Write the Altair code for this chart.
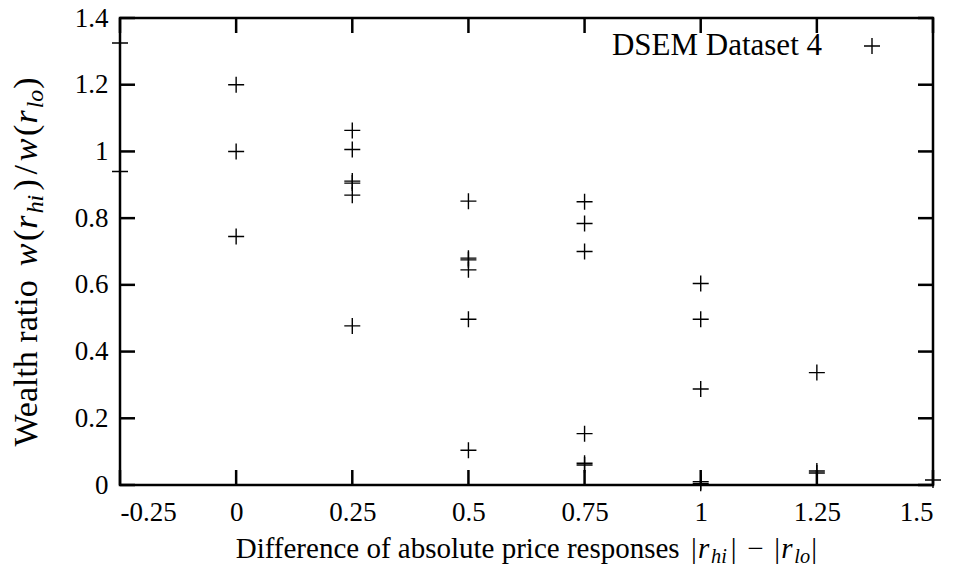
import altair as alt
import pandas as pd

# ---- data ----
x_groups = [-0.25, 0.0, 0.25, 0.5, 0.75, 1.0, 1.25, 1.5]
y_groups = [
    [1.325, 0.94],
    [1.2, 1.0, 0.745],
    [1.063, 1.006, 0.911, 0.905, 0.869, 0.477],
    [0.851, 0.68, 0.675, 0.645, 0.497, 0.104],
    [0.849, 0.784, 0.700, 0.154, 0.065, 0.06],
    [0.604, 0.497, 0.288, 0.01, 0.005],
    [0.337, 0.042, 0.036],
    [0.015],
]
x_ticks = [-0.25, 0, 0.25, 0.5, 0.75, 1, 1.25, 1.5]
y_ticks = [0, 0.2, 0.4, 0.6, 0.8, 1.0, 1.2, 1.4]
legend_label = ["DSEM Dataset 4"]

# axis titles as (text, kind, advance width in em)
# kind: "n" upright, "i" italic, "s" italic subscript, "c" upright centred in slot
x_title_parts = [
    ("Difference of absolute price responses", "n", 15.328),
    (" ", "n", 0.333),
    ("|", "c", 0.278), ("r", "i", 0.451), ("hi", "s", 0.645), ("|", "c", 0.278),
    (" ", "n", 0.222), ("\u2212", "c", 0.778), (" ", "n", 0.222),
    ("|", "c", 0.278), ("r", "i", 0.451), ("lo", "s", 0.548), ("|", "c", 0.278),
]
y_title_parts = [
    ("Wealth ratio", "n", 4.971),
    (" ", "n", 0.333),
    ("w", "i", 0.716), ("(", "c", 0.389), ("r", "i", 0.451), ("hi", "s", 0.645),
    (")", "c", 0.389), ("/", "c", 0.5),
    ("w", "i", 0.716), ("(", "c", 0.389), ("r", "i", 0.451), ("lo", "s", 0.548),
    (")", "c", 0.389),
]

rows = []
for xv, ys in zip(x_groups, y_groups):
    for yv in ys:
        rows.append({"x": xv, "y": yv})
df = pd.DataFrame(rows)

W, H = 813, 467
TOP = 10
FONT = "Liberation Serif, serif"
PLUS = "M-1,0L1,0M0,-1L0,1"
TICK = 15

xs = alt.Scale(domain=[-0.25, 1.5], nice=False, zero=False)
ys_ = alt.Scale(domain=[0, 1.4], nice=False, zero=False)

x_axis = alt.Axis(values=x_ticks, labelExpr="toString(datum.value)", title=None,
                  labelPadding=14)
y_axis = alt.Axis(values=y_ticks, labelExpr="toString(datum.value)", title=None,
                  labelPadding=12)

points = alt.Chart(df).mark_point(
    shape=PLUS, size=256, color="black", strokeWidth=1.4, filled=False, opacity=1
).encode(
    x=alt.X("x:Q", scale=xs, axis=x_axis),
    y=alt.Y("y:Q", scale=ys_, axis=y_axis),
)

xt = pd.DataFrame({"t": x_ticks})
yt = pd.DataFrame({"t": y_ticks})
rule_kw = dict(color="black", strokeWidth=2.5)

bottom = alt.Chart(xt).mark_rule(**rule_kw).encode(
    x=alt.X("t:Q", scale=xs, axis=x_axis), y=alt.value(H), y2=alt.value(H - TICK))
top = alt.Chart(xt).mark_rule(**rule_kw).encode(
    x=alt.X("t:Q", scale=xs, axis=x_axis), y=alt.value(0), y2=alt.value(TICK))
left = alt.Chart(yt).mark_rule(**rule_kw).encode(
    y=alt.Y("t:Q", scale=ys_, axis=y_axis), x=alt.value(0), x2=alt.value(TICK))
right = alt.Chart(yt).mark_rule(**rule_kw).encode(
    y=alt.Y("t:Q", scale=ys_, axis=y_axis), x=alt.value(W - TICK), x2=alt.value(W))


def title_layers(parts, size, center, base, vertical):
    """Lay out a rich-text title as a row of text marks."""
    total = sum(p[2] for p in parts) * size
    pos = center + total / 2 if vertical else center - total / 2
    layers = []
    for text, kind, adv in parts:
        w = adv * size
        if text.strip():
            fs = size * 0.7 if kind == "s" else size
            shift = size * 0.18 if kind == "s" else 0
            style = "italic" if kind in ("i", "s") else "normal"
            if kind == "c":
                off, align = w / 2, "center"
            else:
                off, align = 0, "left"
            if vertical:
                xv, yv, ang = base + shift, pos - off, 270
            else:
                xv, yv, ang = pos + off, base + shift, 0
            layers.append(
                alt.Chart(pd.DataFrame({"t": [text]})).mark_text(
                    font=FONT, fontSize=fs, fontStyle=style, color="black",
                    align=align, baseline="alphabetic", angle=ang,
                ).encode(text="t:N", x=alt.value(xv), y=alt.value(yv))
            )
        pos = pos - w if vertical else pos + w
    return layers


# page coords -> plot coords: subtract (120, 8 + TOP)
x_title_layers = title_layers(x_title_parts, 29, 407, 558 - 8 - TOP, vertical=False)
y_title_layers = title_layers(y_title_parts, 34, 261.5 - 8 - TOP, -83, vertical=True)

leg_df = pd.DataFrame({"label": legend_label})
leg_text = alt.Chart(leg_df).mark_text(
    font=FONT, fontSize=31, color="black", align="right", baseline="alphabetic"
).encode(text="label:N", x=alt.value(702), y=alt.value(55 - 8 - TOP))
leg_mark = alt.Chart(leg_df).mark_point(
    shape=PLUS, size=256, color="black", strokeWidth=1.4, filled=False, opacity=1
).encode(x=alt.value(752), y=alt.value(46 - 8 - TOP))

chart = alt.layer(
    points, bottom, top, left, right, leg_text, leg_mark,
    *x_title_layers, *y_title_layers
).properties(
    width=W, height=H,
    autosize=alt.AutoSizeParams(type="none"),
    padding={"left": 112, "top": TOP, "right": 15, "bottom": 564 - TOP - H},
).configure_view(
    stroke="black", strokeWidth=2.5
).configure_axis(
    domain=False, ticks=False, grid=False,
    labelFont=FONT, labelFontSize=27, labelColor="black",
)

chart.save("out.html", embed_options={"renderer": "svg", "actions": False})
